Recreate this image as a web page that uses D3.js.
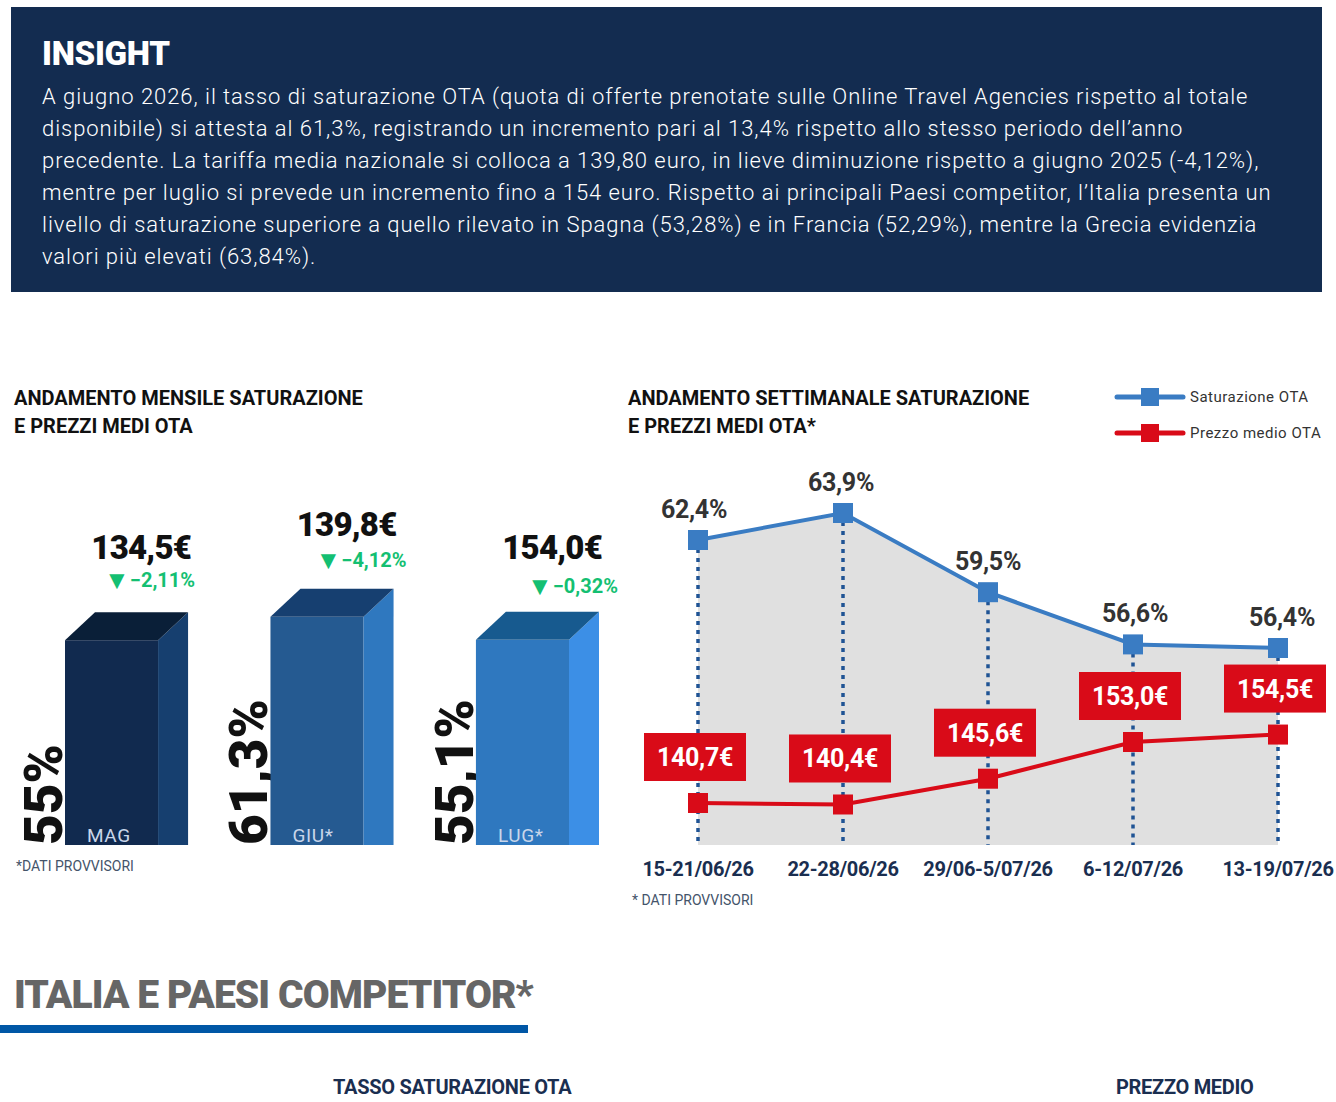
<!DOCTYPE html>
<html>
<head>
<meta charset="utf-8">
<script src="https://cdn.jsdelivr.net/npm/d3@7"></script>
<style>
  body { margin: 0; background: #fff; }
  svg text { font-family: Roboto, "Noto Sans", sans-serif; }
</style>
</head>
<body>
<svg id="svg" width="1336" height="1102"></svg>
<script>
// insight text
var insightTitle = "INSIGHT";
var insightLines = [
  "A giugno 2026, il tasso di saturazione OTA (quota di offerte prenotate sulle Online Travel Agencies rispetto al totale",
  "disponibile) si attesta al 61,3%, registrando un incremento pari al 13,4% rispetto allo stesso periodo dell\u2019anno",
  "precedente. La tariffa media nazionale si colloca a 139,80 euro, in lieve diminuzione rispetto a giugno 2025 (-4,12%),",
  "mentre per luglio si prevede un incremento fino a 154 euro. Rispetto ai principali Paesi competitor, l\u2019Italia presenta un",
  "livello di saturazione superiore a quello rilevato in Spagna (53,28%) e in Francia (52,29%), mentre la Grecia evidenzia",
  "valori pi\u00f9 elevati (63,84%)."
];

// monthly chart
var months = ["MAG", "GIU*", "LUG*"];
var monthSat = [55, 61.3, 55.1];
var monthPrice = [134.5, 139.8, 154.0];
var monthDelta = [-2.11, -4.12, -0.32];

// weekly chart
var weeks = ["15-21/06/26", "22-28/06/26", "29/06-5/07/26", "6-12/07/26", "13-19/07/26"];
var weekSat = [62.4, 63.9, 59.5, 56.6, 56.4];
var weekPrice = [140.7, 140.4, 145.6, 153.0, 154.5];
var legendLabels = ["Saturazione OTA", "Prezzo medio OTA"];

var it = d3.formatLocale({decimal: ",", thousands: ".", grouping: [3], currency: ["", "\u20ac"]});
var fmt1 = it.format(".1f");
var fmt2 = it.format(".2f");
var fmtSat = function(v) { return (v % 1 === 0 ? it.format("d")(v) : fmt1(v)) + "%"; };

var svg = d3.select("#svg");

// ---- insight box
svg.append("rect")
  .attr("x", 11).attr("y", 7).attr("width", 1311).attr("height", 285)
  .attr("fill", "#132c50");
svg.append("text")
  .attr("x", 42).attr("y", 65)
  .attr("fill", "#fff").attr("font-size", 33).attr("font-weight", 900)
  .attr("letter-spacing", -0.3)
  .text(insightTitle);
svg.append("g").selectAll("text")
  .data(insightLines).join("text")
  .attr("x", 42)
  .attr("y", (d, i) => 104 + i * 32)
  .attr("fill", "#fff").attr("font-size", 22).attr("font-weight", 300)
  .attr("letter-spacing", 0.95)
  .text(d => d);

// ---- section titles
function blockTitle(x, lines) {
  svg.append("g").selectAll("text")
    .data(lines).join("text")
    .attr("x", x).attr("y", (d, i) => 405 + i * 28)
    .attr("fill", "#111").attr("font-size", 20).attr("font-weight", 700)
    .text(d => d);
}
blockTitle(14, ["ANDAMENTO MENSILE SATURAZIONE", "E PREZZI MEDI OTA"]);
blockTitle(628, ["ANDAMENTO SETTIMANALE SATURAZIONE", "E PREZZI MEDI OTA*"]);

// ---- monthly 3D bars
var base = 845, depthX = 30, depthY = 28;
var bx = d3.scaleBand().domain(months).range([65, 569]).paddingInner(0.547);
var by = d3.scaleLinear().domain([0, 65]).range([base, base - 242]);
var barColors = [
  {front: "#112a4f", side: "#163f6f", top: "#0a1f38"},
  {front: "#255a91", side: "#2f78bf", top: "#163f70"},
  {front: "#2f78bf", side: "#3c8fe6", top: "#175a8f"}
];
var bars = svg.append("g");
months.forEach(function(m, i) {
  var x0 = bx(m), w = bx.bandwidth(), yt = by(monthSat[i]);
  // rotated value label (behind bar)
  bars.append("text")
    .attr("transform", "translate(" + (x0 - 3) + "," + base + ") rotate(-90)")
    .attr("fill", "#111").attr("font-size", 53).attr("font-weight", 900)
    .text(fmtSat(monthSat[i]));
  bars.append("rect")
    .attr("x", x0).attr("y", yt).attr("width", w).attr("height", base - yt)
    .attr("fill", barColors[i].front);
  bars.append("path")
    .attr("d", d3.line()([[x0 + w, yt], [x0 + w + depthX, yt - depthY], [x0 + w + depthX, base], [x0 + w, base]]))
    .attr("fill", barColors[i].side);
  bars.append("path")
    .attr("d", d3.line()([[x0, yt], [x0 + depthX, yt - depthY], [x0 + w + depthX, yt - depthY], [x0 + w, yt]]))
    .attr("fill", barColors[i].top);
  bars.append("text")
    .attr("x", x0 + 22).attr("y", base - 3)
    .attr("fill", "#c9d6ea").attr("font-size", 19).attr("letter-spacing", 0.6)
    .text(m);
  bars.append("text")
    .attr("x", x0 + w + depthX + 3).attr("y", yt - depthY - 53)
    .attr("text-anchor", "end")
    .attr("fill", "#111").attr("font-size", 33).attr("font-weight", 900)
    .attr("letter-spacing", -0.8)
    .text(fmt1(monthPrice[i]) + "\u20ac");
  var dt = bars.append("text")
    .attr("x", x0 + w + depthX + 7 + i * 6).attr("y", yt - depthY - 25 + i * 3)
    .attr("text-anchor", "end")
    .attr("fill", "#14bf72").attr("font-size", 20).attr("font-weight", 700);
  dt.append("tspan").attr("font-size", 26).attr("dy", 2).text("\u25bc");
  dt.append("tspan").attr("dy", -2).text("\u2212" + fmt2(Math.abs(monthDelta[i])) + "%");
});
svg.append("text")
  .attr("x", 16).attr("y", 871)
  .attr("fill", "#44546a").attr("font-size", 14)
  .text("*DATI PROVVISORI");

// ---- weekly chart
var wx = d3.scalePoint().domain(weeks).range([698, 1278]);
var wySat = d3.scaleLinear().domain([56.4, 63.9]).range([648, 513]);
var wyPrice = d3.scaleLinear().domain([140.7, 153.0]).range([803, 742]);
var wk = svg.append("g");

wk.append("path")
  .datum(weekSat)
  .attr("d", d3.area().x((d, i) => wx(weeks[i])).y0(base).y1(d => wySat(d)))
  .attr("fill", "#e0e0e0");

wk.append("g").selectAll("line")
  .data(weekSat).join("line")
  .attr("x1", (d, i) => wx(weeks[i])).attr("x2", (d, i) => wx(weeks[i]))
  .attr("y1", d => wySat(d)).attr("y2", base)
  .attr("stroke", "#1f5394").attr("stroke-width", 3.5)
  .attr("stroke-dasharray", "4,5");

wk.append("path")
  .datum(weekSat)
  .attr("d", d3.line().x((d, i) => wx(weeks[i])).y(d => wySat(d)))
  .attr("fill", "none").attr("stroke", "#3a7cc3").attr("stroke-width", 4);
wk.append("g").selectAll("rect")
  .data(weekSat).join("rect")
  .attr("x", (d, i) => wx(weeks[i]) - 10).attr("y", d => wySat(d) - 10)
  .attr("width", 20).attr("height", 20).attr("fill", "#3a7cc3");
wk.append("g").selectAll("text")
  .data(weekSat).join("text")
  .attr("x", (d, i) => wx(weeks[i]) - 4 + i * 2).attr("y", d => wySat(d) - 22)
  .attr("text-anchor", "middle")
  .attr("fill", "#333").attr("font-size", 25).attr("font-weight", 700)
  .attr("letter-spacing", -0.3)
  .text(d => fmt1(d) + "%");

wk.append("path")
  .datum(weekPrice)
  .attr("d", d3.line().x((d, i) => wx(weeks[i])).y(d => wyPrice(d)))
  .attr("fill", "none").attr("stroke", "#d90b18").attr("stroke-width", 4);
wk.append("g").selectAll("rect")
  .data(weekPrice).join("rect")
  .attr("x", (d, i) => wx(weeks[i]) - 10).attr("y", d => wyPrice(d) - 10)
  .attr("width", 20).attr("height", 20).attr("fill", "#d90b18");
var priceBox = wk.append("g").selectAll("g")
  .data(weekPrice).join("g")
  .attr("transform", (d, i) => "translate(" + (wx(weeks[i]) - 3) + "," + (wyPrice(d) - 46) + ")");
priceBox.append("rect")
  .attr("x", -51).attr("y", -24).attr("width", 102).attr("height", 48)
  .attr("fill", "#d90b18");
priceBox.append("text")
  .attr("y", 9).attr("text-anchor", "middle")
  .attr("fill", "#fff").attr("font-size", 25).attr("font-weight", 700)
  .attr("letter-spacing", -0.3)
  .text(d => fmt1(d) + "\u20ac");

wk.append("g").selectAll("text")
  .data(weeks).join("text")
  .attr("x", d => wx(d)).attr("y", 876)
  .attr("text-anchor", "middle")
  .attr("fill", "#1a2e50").attr("font-size", 20).attr("font-weight", 700)
  .attr("letter-spacing", -0.3)
  .text(d => d);
svg.append("text")
  .attr("x", 632).attr("y", 905)
  .attr("fill", "#44546a").attr("font-size", 14)
  .text("* DATI PROVVISORI");

// legend
var legColors = ["#3a7cc3", "#d90b18"];
var leg = svg.append("g").selectAll("g")
  .data(legendLabels).join("g")
  .attr("transform", (d, i) => "translate(1117," + (397 + i * 36) + ")");
leg.append("line")
  .attr("x1", 0).attr("x2", 66)
  .attr("stroke", (d, i) => legColors[i]).attr("stroke-width", 5)
  .attr("stroke-linecap", "round");
leg.append("rect")
  .attr("x", 24).attr("y", -9).attr("width", 18).attr("height", 18)
  .attr("fill", (d, i) => legColors[i]);
leg.append("text")
  .attr("x", 73).attr("y", 5)
  .attr("fill", "#333").attr("font-size", 15).attr("letter-spacing", 0.5)
  .text(d => d);

// ---- bottom section
svg.append("text")
  .attr("x", 14).attr("y", 1008)
  .attr("fill", "#666").attr("font-size", 39).attr("font-weight", 900)
  .attr("letter-spacing", -0.9)
  .text("ITALIA E PAESI COMPETITOR*");
svg.append("rect")
  .attr("x", 0).attr("y", 1025).attr("width", 528).attr("height", 8)
  .attr("fill", "#0057a6");
svg.append("text")
  .attr("x", 333).attr("y", 1094)
  .attr("fill", "#1a2e50").attr("font-size", 20).attr("font-weight", 700)
  .attr("letter-spacing", -0.3)
  .text("TASSO SATURAZIONE OTA");
svg.append("text")
  .attr("x", 1116).attr("y", 1094)
  .attr("fill", "#1a2e50").attr("font-size", 20).attr("font-weight", 700)
  .attr("letter-spacing", -0.3)
  .text("PREZZO MEDIO");
</script>
</body>
</html>
